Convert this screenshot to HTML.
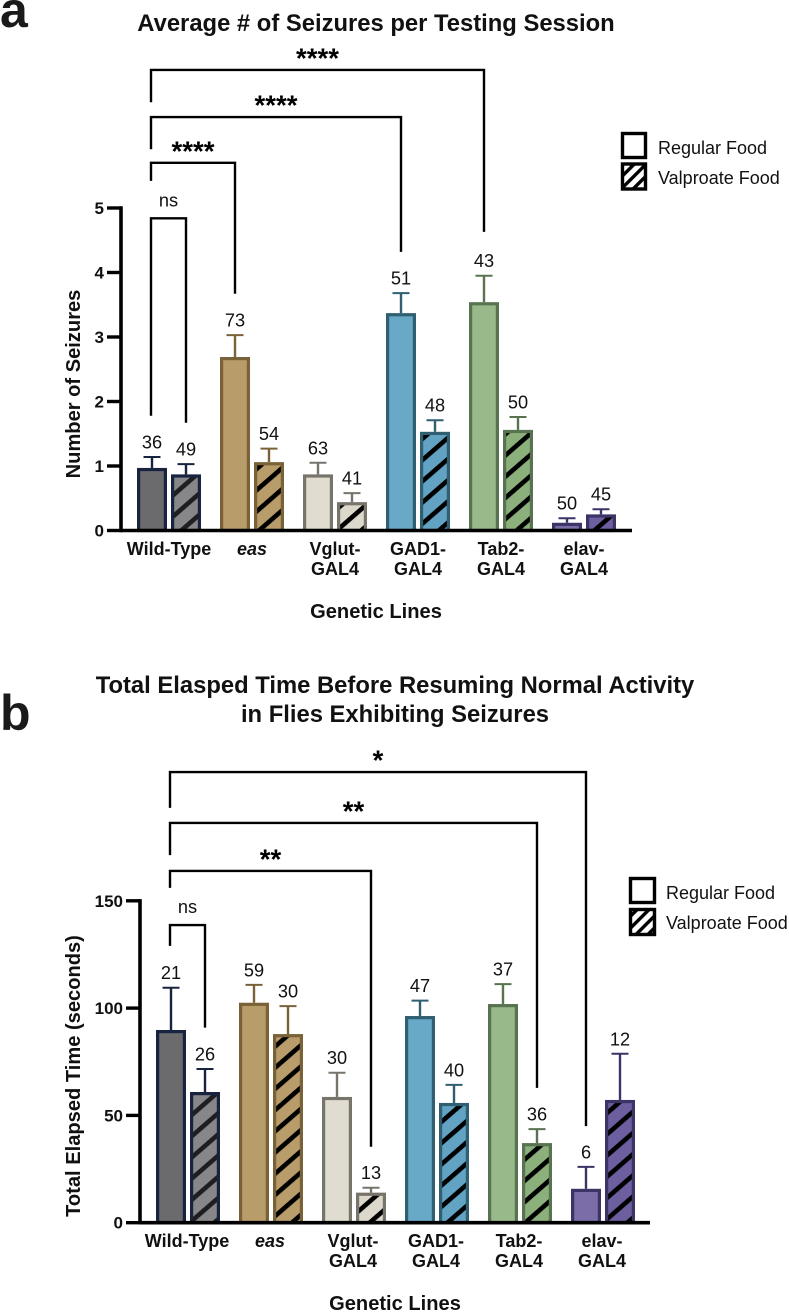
<!DOCTYPE html>
<html lang="en">
<head>
<meta charset="utf-8">
<title>Seizure charts</title>
<style>
html,body{margin:0;padding:0;background:#fff;width:789px;height:1313px;overflow:hidden}
svg{display:block;font-family:"Liberation Sans",sans-serif}
.title{font-weight:700;font-size:23.8px;text-anchor:middle;fill:#111}
.panel{font-weight:700;font-size:50px;fill:#1a1a1a}
.axis-title{font-weight:700;font-size:20.1px;text-anchor:middle;fill:#111}
.tick{font-weight:700;font-size:17px;text-anchor:end;fill:#111}
.cat{font-weight:700;font-size:18px;text-anchor:middle;fill:#111}
.n{font-size:18.2px;text-anchor:middle;fill:#111}
.stars{font-weight:700;font-size:27.6px;text-anchor:middle;fill:#000}
.ns{font-size:18.2px;text-anchor:middle;fill:#111}
.legend{font-size:18px;fill:#111}
</style>
</head>
<body>
<svg id="figure" xmlns="http://www.w3.org/2000/svg" width="789" height="1313" viewBox="0 0 789 1313">
  <defs id="defs">
    <pattern id="legend-hatch" width="8.4" height="8.4" patternUnits="userSpaceOnUse" patternTransform="rotate(-45)">
      <rect width="8.4" height="8.4" fill="#fff"></rect>
      <rect width="8.4" height="3.4" fill="#000"></rect>
    </pattern>
  </defs>

  <text class="panel" x="0" y="27">a</text>
  <text class="title" x="376" y="31">Average # of Seizures per Testing Session</text>
  <text class="axis-title" transform="translate(80 384) rotate(-90)">Number of Seizures</text>
  <text class="axis-title" x="376" y="618">Genetic Lines</text>
  <g id="chart-a"></g>
  <g>
    <rect x="622.5" y="133.5" width="23" height="24" fill="#fff" stroke="#000" stroke-width="3.4"></rect>
    <text class="legend" x="658" y="154">Regular Food</text>
    <rect x="622.5" y="164" width="23" height="25" fill="url(#legend-hatch)" stroke="#000" stroke-width="3.4"></rect>
    <text class="legend" x="658" y="184">Valproate Food</text>
  </g>

  <text class="panel" x="0" y="730">b</text>
  <text class="title" x="395" y="693">Total Elasped Time Before Resuming Normal Activity</text>
  <text class="title" x="395" y="722">in Flies Exhibiting Seizures</text>
  <text class="axis-title" transform="translate(80 1076) rotate(-90)">Total Elapsed Time (seconds)</text>
  <text class="axis-title" x="395" y="1310">Genetic Lines</text>
  <g id="chart-b"></g>
  <g>
    <rect x="630.5" y="878.5" width="24" height="24" fill="#fff" stroke="#000" stroke-width="3.4"></rect>
    <text class="legend" x="666" y="899">Regular Food</text>
    <rect x="630.5" y="909.5" width="24" height="25" fill="url(#legend-hatch)" stroke="#000" stroke-width="3.4"></rect>
    <text class="legend" x="666" y="929">Valproate Food</text>
  </g>
</svg>
<script>
// Shared categories
const categoryFirstLines = ['Wild-Type', 'eas', 'Vglut-', 'GAD1-', 'Tab2-', 'elav-'];
const categorySecondLines = ['', '', 'GAL4', 'GAL4', 'GAL4', 'GAL4'];
const categorySlugs = ['wild-type', 'eas', 'vglut-gal4', 'gad1-gal4', 'tab2-gal4', 'elav-gal4'];
const fillColors = ['#6b6b6e', '#b89c6a', '#e0ddd0', '#69a9c8', '#98b98a', '#7a6da8'];
const hatchFillColors = ['#878789', '#b89c6a', '#dcd8cb', '#62a3c3', '#8cb07c', '#6d5ea0'];
const strokeColors = ['#18233f', '#7a6238', '#77746c', '#2f5f70', '#587350', '#3c3366'];
const hatchStripeColors = ['#1e1e20', '#000', '#000', '#000', '#000', '#000'];

// Chart a: average number of seizures
const seizureTicks = [0, 1, 2, 3, 4, 5];
const seizureRegular = [0.97, 2.69, 0.87, 3.37, 3.54, 0.12];
const seizureRegularErr = [0.17, 0.34, 0.18, 0.31, 0.41, 0.07];
const seizureValproate = [0.87, 1.06, 0.44, 1.53, 1.56, 0.25];
const seizureValproateErr = [0.16, 0.21, 0.14, 0.18, 0.20, 0.08];
const seizureRegularN = ['36', '73', '63', '51', '43', '50'];
const seizureValproateN = ['49', '54', '41', '48', '50', '45'];
const seizureBracketTargets = [[0, 1], [1, 0], [3, 0], [4, 0]];
const seizureBracketLevels = [4.84, 5.70, 6.41, 7.14];
const seizureBracketStarts = [1.78, 5.42, 5.91, 6.64];
const seizureBracketEnds = [1.67, 3.67, 4.32, 4.63];
const seizureBracketLabels = ['ns', '****', '****', '****'];

// Chart b: total elapsed time
const elapsedTicks = [0, 50, 100, 150];
const elapsedRegular = [89.8, 102.5, 58.6, 96.3, 101.9, 15.8];
const elapsedRegularErr = [19.7, 8.3, 11.3, 7.2, 9.3, 10.2];
const elapsedValproate = [60.9, 87.9, 14.0, 55.8, 37.1, 57.2];
const elapsedValproateErr = [10.7, 13.0, 2.3, 8.4, 6.5, 21.5];
const elapsedRegularN = ['21', '59', '30', '47', '37', '6'];
const elapsedValproateN = ['26', '30', '13', '40', '36', '12'];
const elapsedBracketTargets = [[0, 1], [2, 1], [4, 1], [5, 0]];
const elapsedBracketLevels = [138.7, 163.9, 186.3, 210];
const elapsedBracketStarts = [129, 156, 171.3, 193.3];
const elapsedBracketEnds = [90.9, 35.4, 62.8, 45];
const elapsedBracketLabels = ['ns', '**', '**', '*'];

const SVGNS = 'http://www.w3.org/2000/svg';
function add(parent, tag, attrs, text) {
  const node = document.createElementNS(SVGNS, tag);
  for (const key in attrs) node.setAttribute(key, attrs[key]);
  if (text !== undefined) node.textContent = text;
  parent.appendChild(node);
  return node;
}

// Diagonal hatch pattern per genotype
const defs = document.getElementById('defs');
for (let i = 0; i < hatchFillColors.length; i++) {
  const p = add(defs, 'pattern', {id: 'hatch-' + i, width: 16, height: 16, patternUnits: 'userSpaceOnUse', patternTransform: 'rotate(-41) translate(0 ' + (i * 3) + ')'});
  add(p, 'rect', {width: 16, height: 16, fill: hatchFillColors[i]});
  add(p, 'rect', {width: 16, height: 4.6, y: 5, fill: hatchStripeColors[i]});
}

function drawChart(cfg) {
  const root = document.getElementById(cfg.id);
  const x = function (group, series) { return cfg.x0 + group * 83 + series * 34; };
  const y = function (v) { return cfg.y0 - v * cfg.pxPerUnit; };
  const BAR_W = 30, SW = 3.2, CAP = 8.5;

  // Bars, error bars and sample-size labels
  const seriesSets = [
    {key: 'regular', vals: cfg.regular, errs: cfg.regularErr, ns: cfg.regularN},
    {key: 'valproate', vals: cfg.valproate, errs: cfg.valproateErr, ns: cfg.valproateN}
  ];
  seriesSets.forEach(function (set, s) {
    set.vals.forEach(function (v, i) {
      const cx = x(i, s), topV = v + set.errs[i];

      let el = add(root, 'line', {x1: cx, x2: cx, y1: y(v), y2: y(topV), stroke: strokeColors[i], 'stroke-width': 2.4});
      
      

      el = add(root, 'line', {x1: cx - CAP, x2: cx + CAP, y1: y(topV), y2: y(topV), stroke: strokeColors[i], 'stroke-width': 2});
      
      

      el = add(root, 'rect', {
        x: cx - BAR_W / 2 + SW / 2, y: y(v) + SW / 2,
        width: BAR_W - SW, height: Math.max(0.5, cfg.y0 - y(v) - SW / 2),
        fill: s === 0 ? fillColors[i] : 'url(#hatch-' + i + ')',
        stroke: strokeColors[i], 'stroke-width': SW
      });
      
      

      el = add(root, 'text', {class: 'n', x: cx, y: y(topV) - 8.5}, set.ns[i]);
      
      
    });
  });

  // Axes
  const maxTick = cfg.ticks[cfg.ticks.length - 1];
  let axis = add(root, 'line', {x1: cfg.axisX, x2: cfg.axisX, y1: y(maxTick) - 1.7, y2: cfg.y0 + 1.7, stroke: '#000', 'stroke-width': 3.6});
  
  
  axis = add(root, 'line', {x1: cfg.axisX, x2: cfg.axisEnd, y1: cfg.y0, y2: cfg.y0, stroke: '#000', 'stroke-width': 3.6});
  
  

  cfg.ticks.forEach(function (t) {
    let el = add(root, 'line', {x1: cfg.axisX - 14, x2: cfg.axisX, y1: y(t), y2: y(t), stroke: '#000', 'stroke-width': 3.4});
    
    
    el = add(root, 'text', {class: 'tick', x: cfg.axisX - 17, y: y(t) + 6}, String(t));
    
    
  });

  // Category labels
  categoryFirstLines.forEach(function (label, i) {
    const cx = cfg.labelX0 + i * 83;
    let el = add(root, 'text', {class: 'cat', x: cx, y: cfg.y0 + 24.5}, label);
    if (label === 'eas') el.setAttribute('font-style', 'italic');
    
    
    if (categorySecondLines[i]) {
      el = add(root, 'text', {class: 'cat', x: cx, y: cfg.y0 + 44.5}, categorySecondLines[i]);
      
      
    }
  });

  // Significance brackets
  cfg.bracketTargets.forEach(function (target, b) {
    const x1 = x(0, 0) - 1, x2 = x(target[0], target[1]);
    const level = y(cfg.bracketLevels[b]);
    let el = add(root, 'path', {
      d: 'M' + x1 + ' ' + y(cfg.bracketStarts[b]) + 'V' + level + 'H' + x2 + 'V' + y(cfg.bracketEnds[b]),
      fill: 'none', stroke: '#000', 'stroke-width': 2.4
    });
    
    
    const isNs = cfg.bracketLabels[b] === 'ns';
    el = add(root, 'text', {class: isNs ? 'ns' : 'stars', x: (x1 + x2) / 2, y: level + (isNs ? -12 : -2.5)}, cfg.bracketLabels[b]);
    
    
  });
}

drawChart({
  id: 'chart-a', x0: 152, y0: 530.5, pxPerUnit: 64.5, axisX: 121, axisEnd: 632, labelX0: 169,
  ticks: seizureTicks, regular: seizureRegular, regularErr: seizureRegularErr,
  valproate: seizureValproate, valproateErr: seizureValproateErr,
  regularN: seizureRegularN, valproateN: seizureValproateN,
  bracketTargets: seizureBracketTargets, bracketLevels: seizureBracketLevels,
  bracketStarts: seizureBracketStarts, bracketEnds: seizureBracketEnds, bracketLabels: seizureBracketLabels
});
drawChart({
  id: 'chart-b', x0: 171, y0: 1222.7, pxPerUnit: 2.146, axisX: 140, axisEnd: 650, labelX0: 187,
  ticks: elapsedTicks, regular: elapsedRegular, regularErr: elapsedRegularErr,
  valproate: elapsedValproate, valproateErr: elapsedValproateErr,
  regularN: elapsedRegularN, valproateN: elapsedValproateN,
  bracketTargets: elapsedBracketTargets, bracketLevels: elapsedBracketLevels,
  bracketStarts: elapsedBracketStarts, bracketEnds: elapsedBracketEnds, bracketLabels: elapsedBracketLabels
});
</script>
</body>
</html>
